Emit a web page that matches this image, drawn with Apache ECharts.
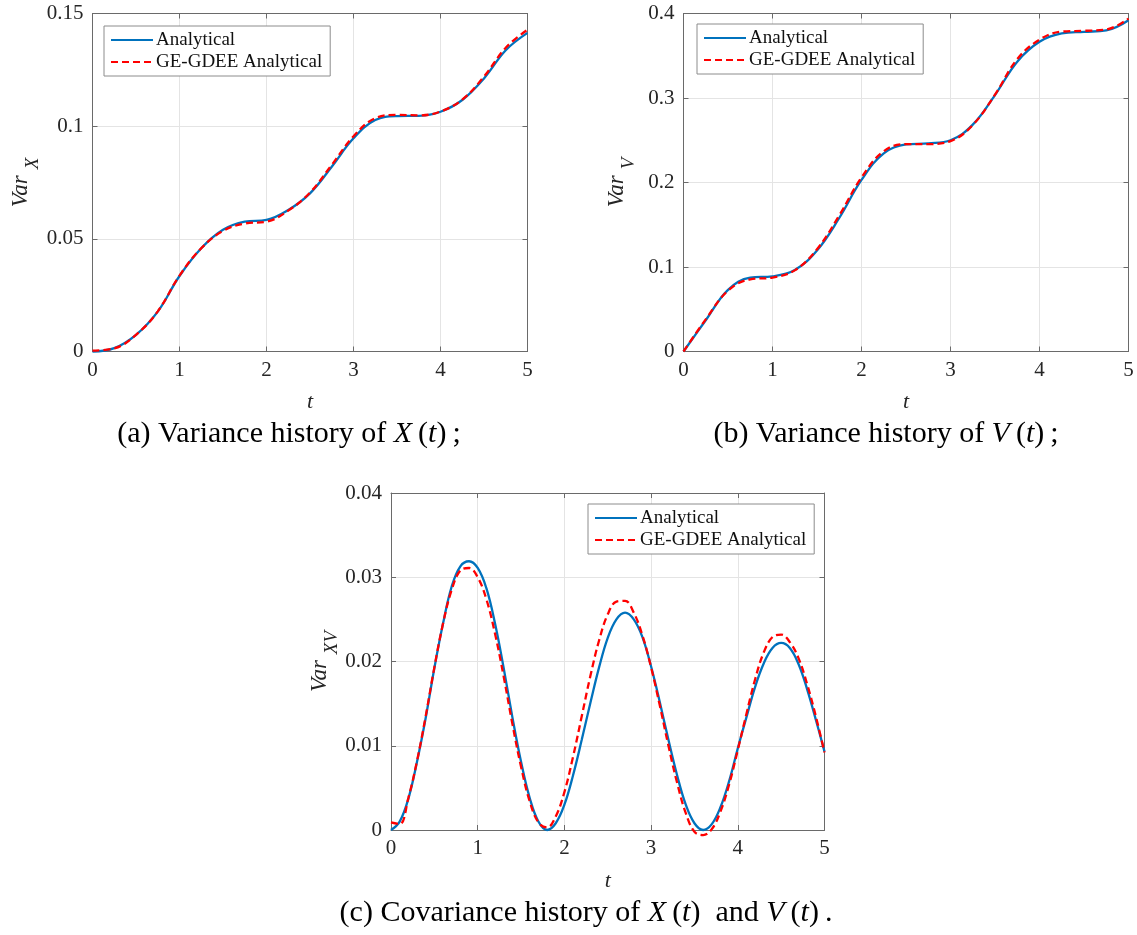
<!DOCTYPE html>
<html>
<head>
<meta charset="utf-8">
<script src="https://cdn.jsdelivr.net/npm/echarts@6/dist/echarts.min.js"></script>
<style>
  html, body { margin: 0; padding: 0; background: #ffffff; }
  #chart { width: 1137px; height: 935px; }
</style>
</head>
<body>
<div id="chart"></div>
<script>
// ---- data -------------------------------------------------------------
const seriesNames = ['Analytical', 'GE-GDEE Analytical'];

// time samples for the variance histories
const tVar = [0, 0.25, 0.5, 0.75, 1, 1.25, 1.5, 1.75, 2, 2.25, 2.5, 2.75, 3, 3.25, 3.5, 3.75, 4, 4.25, 4.5, 4.75, 5];

const varXAnalytical = [0, 0.0015, 0.0074, 0.0177, 0.0335, 0.0458, 0.0540, 0.0576, 0.0584, 0.0628, 0.0702, 0.0820,
  0.0946, 0.1027, 0.1045, 0.1046, 0.1064, 0.1116, 0.1212, 0.1337, 0.1414];
const varXGeGdee = [0.0004, 0.0014, 0.0074, 0.0178, 0.0337, 0.0458, 0.0535, 0.0568, 0.0576, 0.0625, 0.0705, 0.0828,
  0.0955, 0.1035, 0.1050, 0.1048, 0.1065, 0.1118, 0.1220, 0.1348, 0.1428];

const varVAnalytical = [0, 0.037, 0.073, 0.0875, 0.089, 0.0965, 0.1195, 0.158, 0.203, 0.2345, 0.245, 0.2463,
  0.250, 0.2685, 0.3035, 0.343, 0.3665, 0.3764, 0.3783, 0.380, 0.392];
const varVGeGdee = [0, 0.038, 0.072, 0.0855, 0.0875, 0.096, 0.121, 0.161, 0.206, 0.237, 0.2455, 0.2455,
  0.249, 0.268, 0.304, 0.346, 0.369, 0.3785, 0.3795, 0.381, 0.394];

// time samples for the covariance history
const tCov = [0, 0.1, 0.2, 0.3, 0.4, 0.5, 0.6, 0.7, 0.8, 0.9, 1, 1.1, 1.2, 1.3, 1.4, 1.5, 1.6, 1.7, 1.8, 1.9,
  2, 2.1, 2.2, 2.3, 2.4, 2.5, 2.6, 2.7, 2.8, 2.9, 3, 3.1, 3.2, 3.3, 3.4, 3.5, 3.6, 3.7, 3.8, 3.9,
  4, 4.1, 4.2, 4.3, 4.4, 4.5, 4.6, 4.7, 4.8, 4.9, 5];

const covAnalytical = [0, 0.0010, 0.0037, 0.0081, 0.0133, 0.0192, 0.0245, 0.0289, 0.0313, 0.0319,
  0.0311, 0.0287, 0.0245, 0.0192, 0.0134, 0.0081, 0.0038, 0.0010, 0.0000, 0.0008,
  0.0030, 0.0065, 0.0107, 0.0151, 0.0193, 0.0228, 0.0250, 0.0258, 0.0250, 0.0229,
  0.0194, 0.0152, 0.0107, 0.0065, 0.0030, 0.0008, 0.0000, 0.0007, 0.0027, 0.0058,
  0.0097, 0.0134, 0.0170, 0.0198, 0.0216, 0.0222, 0.0216, 0.0197, 0.0167, 0.0131, 0.0093];
const covGeGdee = [0.0009, 0.0007, 0.0038, 0.0082, 0.0135, 0.0193, 0.0245, 0.0285, 0.0308, 0.0311,
  0.0300, 0.0274, 0.0233, 0.0182, 0.0126, 0.0075, 0.0034, 0.0009, 0.0003, 0.0016,
  0.0045, 0.0087, 0.0135, 0.0183, 0.0225, 0.0256, 0.0271, 0.0272, 0.0258, 0.0231,
  0.0193, 0.0148, 0.0100, 0.0056, 0.0020, -0.0002, -0.0006, 0.0001, 0.0022, 0.0054,
  0.0095, 0.0138, 0.0179, 0.0211, 0.0229, 0.0232, 0.0223, 0.0204, 0.0173, 0.0135, 0.0092];

// axis tick values
const tTicks = [0, 1, 2, 3, 4, 5];
const varXTicks = [0, 0.05, 0.1, 0.15];
const varVTicks = [0, 0.1, 0.2, 0.3, 0.4];
const covTicks = [0, 0.01, 0.02, 0.03, 0.04];

// ---- styling ----------------------------------------------------------
const SERIF = '"Liberation Serif", "Times New Roman", serif';
const FRAME = '#6a6a6a';
const GRIDLINE = '#e4e4e4';
const TEXT = '#262626';
const BLUE = '#0072BD';
const RED = '#FF0000';

const zip = (xs, ys) => xs.map((x, i) => [x, ys[i]]);
const range = ticks => ({ min: ticks[0], max: ticks[ticks.length - 1], interval: ticks[1] - ticks[0] });
const frameLine = () => ({ show: true, onZero: false, lineStyle: { color: FRAME, width: 1 } });
const innerTick = () => ({ show: true, inside: true, length: 5, lineStyle: { color: FRAME, width: 1 } });

const grids = [], xAxes = [], yAxes = [], series = [], legends = [], graphics = [];

function panel(box, xTicks, yTicks, yName, ySub, xs, yA, yG, legendPos, yNameGap) {
  const gi = grids.length;
  grids.push({ left: box.left, top: box.top, width: box.width, height: box.height, show: false });

  const xr = range(xTicks), yr = range(yTicks);

  const xi = xAxes.length;
  xAxes.push({
    type: 'value', gridIndex: gi, position: 'bottom', ...xr,
    axisLine: frameLine(), axisTick: innerTick(),
    axisLabel: { color: TEXT, fontFamily: SERIF, fontSize: 21, margin: 8 },
    splitLine: { show: true, lineStyle: { color: GRIDLINE, width: 1 } },
    name: 't', nameLocation: 'middle', nameGap: 40,
    nameTextStyle: { color: TEXT, fontFamily: SERIF, fontSize: 22, fontStyle: 'italic' }
  });
  xAxes.push({
    type: 'value', gridIndex: gi, position: 'top', ...xr,
    axisLine: frameLine(), axisTick: innerTick(),
    axisLabel: { show: false }, splitLine: { show: false }
  });

  const yi = yAxes.length;
  yAxes.push({
    type: 'value', gridIndex: gi, position: 'left', ...yr,
    axisLine: frameLine(), axisTick: innerTick(),
    axisLabel: { color: TEXT, fontFamily: SERIF, fontSize: 21, margin: 9 },
    splitLine: { show: true, lineStyle: { color: GRIDLINE, width: 1 } },
    name: '{v|' + yName + '}{s|' + ySub + '}', nameLocation: 'middle', nameRotate: 90, nameGap: yNameGap,
    nameTextStyle: {
      rich: {
        v: { fontFamily: SERIF, fontSize: 23, fontStyle: 'italic', color: TEXT, verticalAlign: 'top', lineHeight: 26 },
        s: { fontFamily: SERIF, fontSize: 19, fontStyle: 'italic', color: TEXT, verticalAlign: 'top', lineHeight: 19, padding: [14, 0, 0, 6] }
      }
    }
  });
  yAxes.push({
    type: 'value', gridIndex: gi, position: 'right', ...yr,
    axisLine: frameLine(), axisTick: innerTick(),
    axisLabel: { show: false }, splitLine: { show: false }
  });

  series.push({
    name: seriesNames[0], type: 'line', xAxisIndex: xi, yAxisIndex: yi,
    data: zip(xs, yA), showSymbol: false, symbol: 'none', smooth: 0.4, clip: false,
    lineStyle: { color: BLUE, width: 2.3 }, itemStyle: { color: BLUE }, z: 3
  });
  series.push({
    name: seriesNames[1], type: 'line', xAxisIndex: xi, yAxisIndex: yi,
    data: zip(xs, yG), showSymbol: false, symbol: 'none', smooth: 0.4, clip: false,
    lineStyle: { color: RED, width: 2.3, type: [7, 4] }, itemStyle: { color: RED }, z: 4
  });

  legends.push({
    data: seriesNames, orient: 'vertical', left: legendPos.left, top: legendPos.top,
    itemWidth: 42, itemHeight: 14, itemGap: 2, padding: [4, 8, 4, 6],
    backgroundColor: '#ffffff', borderColor: '#8c8c8c', borderWidth: 1, borderRadius: 0,
    selectedMode: false,
    itemStyle: { opacity: 0, borderWidth: 0 },
    textStyle: { fontFamily: SERIF, fontSize: 19, color: '#111', lineHeight: 20, padding: [0, 0, 0, -2] }
  });
}

panel({ left: 92.5, top: 13.5, width: 435, height: 338 }, tTicks, varXTicks, 'Var', 'X',
  tVar, varXAnalytical, varXGeGdee, { left: 104, top: 26 }, 52);
panel({ left: 683.5, top: 13.5, width: 445, height: 338 }, tTicks, varVTicks, 'Var', 'V',
  tVar, varVAnalytical, varVGeGdee, { left: 697, top: 24 }, 52);
panel({ left: 391, top: 493, width: 433.5, height: 337 }, tTicks, covTicks, 'Var', 'XV',
  tCov, covAnalytical, covGeGdee, { left: 588, top: 504 }, 48);

// sub-figure captions
const captionRich = {
  n: { fontFamily: SERIF, fontSize: 30, color: '#111' },
  i: { fontFamily: SERIF, fontSize: 30, fontStyle: 'italic', color: '#111' }
};
function caption(x, y, text) {
  graphics.push({ type: 'text', x: x, y: y, z: 10,
    style: { text: text, rich: captionRich, align: 'center', verticalAlign: 'middle' } });
}
caption(289, 434, '{n|(a) Variance history of }{i|X}{n|\u2009(}{i|t}{n|)\u2009;}');
caption(886, 434, '{n|(b) Variance history of }{i|V}{n|\u2009(}{i|t}{n|)\u2009;}');
caption(586, 913, '{n|(c) Covariance history of }{i|X}{n|\u2009(}{i|t}{n|)  and }{i|V}{n|\u2009(}{i|t}{n|)\u2009.}');

const chart = echarts.init(document.getElementById('chart'), null, { renderer: 'canvas' });
chart.setOption({
  animation: false,
  backgroundColor: '#ffffff',
  grid: grids,
  xAxis: xAxes,
  yAxis: yAxes,
  legend: legends,
  series: series,
  graphic: graphics
});
</script>
</body>
</html>
